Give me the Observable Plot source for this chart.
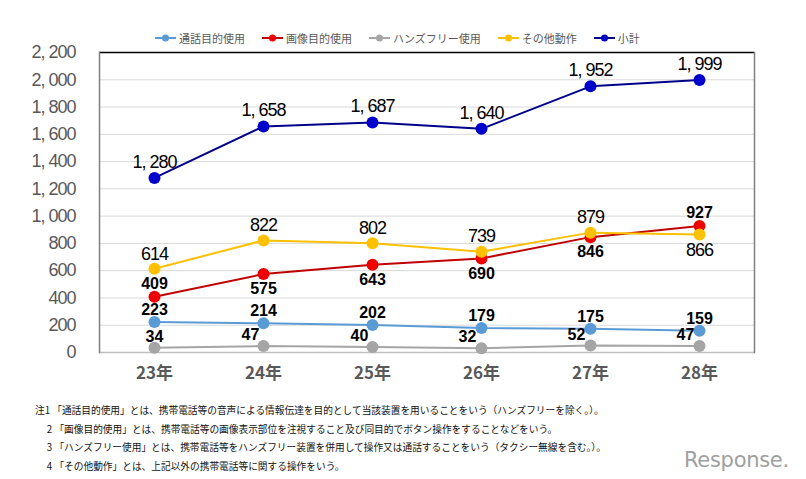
<!DOCTYPE html>
<html><head><meta charset="utf-8">
<script src="https://cdn.jsdelivr.net/npm/d3@7"></script>
<script src="https://cdn.jsdelivr.net/npm/@observablehq/plot@0.6"></script>
<style>
body{margin:0;background:#fff;}
#wrap{position:relative;width:806px;height:479px;overflow:hidden;font-family:"Noto Sans CJK JP",sans-serif;}
#legend{position:absolute;top:30px;left:155px;display:flex;align-items:center;font-size:11px;color:#595959;white-space:nowrap;}
#legend .it{display:flex;align-items:center;margin-right:17px;}
#legend svg{margin-right:3px;}
#notes{position:absolute;top:401px;left:35px;font-size:9.7px;line-height:18.7px;color:#111;white-space:pre;}
#logo{position:absolute;left:684px;top:448px;font-family:"DejaVu Sans",sans-serif;font-size:21px;color:#a0a0a0;letter-spacing:-0.3px;}
#chart g[aria-label="y-axis tick label"]{letter-spacing:-1px;}
#chart .narrowlbl{letter-spacing:-1px;}
</style></head>
<body><div id="wrap"><div id="chart"></div><div id="legend"></div><div id="notes"></div><div id="logo">Response.</div></div>
<script>
const years = ["23年","24年","25年","26年","27年","28年"];
const seriesNames = ["通話目的使用","画像目的使用","ハンズフリー使用","その他動作","小計"];
const tsuwa = [223,214,202,179,175,159];
const gazou = [409,575,643,690,846,927];
const handsfree = [34,47,40,32,52,47];
const sonota = [614,822,802,739,879,866];
const shokei = [1280,1658,1687,1640,1952,1999];
const yTicks = [0,200,400,600,800,1000,1200,1400,1600,1800,2000,2200];
const notes = [
"注1 「通話目的使用」とは、携帯電話等の音声による情報伝達を目的として当該装置を用いることをいう（ハンズフリーを除く。）。",
"　 2 「画像目的使用」とは、携帯電話等の画像表示部位を注視すること及び同目的でボタン操作をすることなどをいう。",
"　 3 「ハンズフリー使用」とは、携帯電話等をハンズフリー装置を併用して操作又は通話することをいう（タクシー無線を含む。）。",
"　 4 「その他動作」とは、上記以外の携帯電話等に関する操作をいう。"
];

const lineColors = ["#5B9BD5","#C00000","#A5A5A5","#FFC000","#00008B"];
const dotColors  = ["#5B9BD5","#EE0000","#A5A5A5","#FFC000","#0000CC"];
const values = [tsuwa,gazou,handsfree,sonota,shokei];
const lblDy = [
  [-12,-12,-12,-12,-12,-12],
  [-13,15,15,15,15,-13],
  [-11,-11,-11,-11,-11,-11],
  [-15,-15,-15,-15,-15,16],
  [-16,-16,-16,-16,-16,-16]
];
const lblDx = [
  [0,0,0,0,0,0],
  [0,0,0,0,0,0],
  [0,-13,-13,-14,-14,-14],
  [0,0,0,0,0,0],
  [0,0,0,0,0,0]
];
const boldSeries = [true,true,true,false,false];

const data = [];
values.forEach((arr,si)=>arr.forEach((v,i)=>data.push({s:seriesNames[si],si,year:years[i],v})));

const fmt = v => d3.format(",")(v).replace(",", ", ");
const sans = "'Liberation Sans',Arial,sans-serif";

const marks = [
  Plot.ruleY(yTicks.filter(t=>t>0 && t<2200), {stroke:"#d9d9d9", strokeWidth:1}),
  Plot.ruleY([2200], {stroke:"#000", strokeWidth:1.5}),
  Plot.ruleY([0], {stroke:"#bfbfbf", strokeWidth:1.5}),
  Plot.axisY({ticks:yTicks, tickSize:0, tickPadding:24, tickFormat:fmt, fontSize:18, fill:"#595959", fontFamily:sans}),
  Plot.axisX({tickSize:0, tickPadding:14, fontSize:17, fill:"#595959", fontWeight:"bold", fontFamily:"'Noto Sans CJK JP',sans-serif"}),
  Plot.frame({anchor:"left", stroke:"#808080", strokeWidth:1.5}),
  Plot.frame({anchor:"right", stroke:"#808080", strokeWidth:1.5})
];
seriesNames.forEach((name,si)=>{
  const d = data.filter(r=>r.si===si);
  marks.push(Plot.line(d,{x:"year",y:"v",stroke:lineColors[si],strokeWidth:2}));
});
seriesNames.forEach((name,si)=>{
  const d = data.filter(r=>r.si===si);
  marks.push(Plot.dot(d,{x:"year",y:"v",r:6,fill:dotColors[si],stroke:"none"}));
});
seriesNames.forEach((name,si)=>{
  d3.range(6).forEach(i=>{
    const d = data.filter(r=>r.si===si && r.year===years[i]);
    marks.push(Plot.text(d,{x:"year",y:"v",text:r=>si===4?fmt(r.v):String(r.v),dx:lblDx[si][i],dy:lblDy[si][i],
      fill:"#000",fontSize:boldSeries[si]?16:18,fontWeight:boldSeries[si]?"bold":"normal",
      fontFamily:sans, className: boldSeries[si]?undefined:"narrowlbl"}));
  });
});

const chart = Plot.plot({
  width:806, height:400,
  marginLeft:99, marginRight:52, marginTop:52, marginBottom:48,
  x:{type:"point", domain:years, padding:0.5, label:null},
  y:{domain:[0,2200], label:null},
  style:{background:"#fff"},
  marks
});
document.getElementById("chart").appendChild(chart);

const lg = document.getElementById("legend");
seriesNames.forEach((n,si)=>{
  const it = document.createElement("div"); it.className="it";
  it.innerHTML = `<svg width="21" height="10"><line x1="0" y1="5" x2="21" y2="5" stroke="${lineColors[si]}" stroke-width="2"/><circle cx="10.5" cy="5" r="3.5" fill="${dotColors[si]}"/></svg><span>${n}</span>`;
  lg.appendChild(it);
});
document.getElementById("notes").textContent = notes.join("\n");
</script></body></html>
